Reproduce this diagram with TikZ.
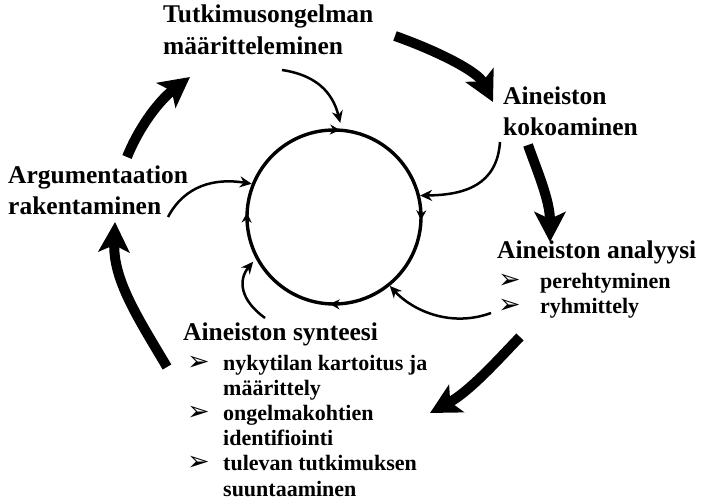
\documentclass[tikz,border=0pt]{standalone}
\usepackage{fontspec}
\setmainfont{Liberation Serif}
\newfontfamily\bulletfont{DejaVu Sans}
\usetikzlibrary{arrows.meta}
\usetikzlibrary{decorations.markings}

\newcommand{\bul}{\makebox[36pt][l]{\bulletfont\bfseries\fontsize{27}{27}\selectfont ➢}}
\newcommand{\bulwide}{\makebox[42pt][l]{\bulletfont\bfseries\fontsize{27}{27}\selectfont ➢}}

\begin{document}
\begin{tikzpicture}[
x=1pt, y=-1pt,
heading/.style={font=\fontsize{25.5}{31.5}\selectfont\bfseries, align=left, inner sep=0pt, anchor=base west},
itemlist/.style={font=\fontsize{22}{25.2}\selectfont\bfseries, inner sep=0pt, anchor=base west},
ring/.style={circle, draw, line width=3.4pt, minimum size=174pt, inner sep=0pt,
  postaction={decorate}, decoration={markings,
  mark=at position 0.239 with {\arrowreversed{Stealth[length=10pt,width=10pt]}},
  mark=at position 0.492 with {\arrowreversed{Stealth[length=10pt,width=10pt]}},
  mark=at position 0.742 with {\arrowreversed{Stealth[length=10pt,width=10pt]}},
  mark=at position 0.994 with {\arrowreversed{Stealth[length=10pt,width=10pt]}}}},
feed/.style={line width=2.5pt, -{Stealth[length=12pt,width=11pt]}},
bigarrow/.style={line width=10pt, -{Stealth[length=30pt,width=31pt,inset=7pt]}}
]
\useasboundingbox (0,0) rectangle (703,502);

% phases (two-line nodes sit on their last baseline)
\node[heading] (tutk) at (163,54.5) {Tutkimusongelman\\määritteleminen};
\node[heading] (koko) at (503,136) {Aineiston\\kokoaminen};
\node[heading] (argu) at (8,215) {Argumentaation\\rakentaminen};
\node[heading] (anal) at (497,259) {Aineiston analyysi};
\node[heading] (synt) at (183,340) {Aineiston synteesi};

\node[itemlist] (anal-list) at (498,288) {\begin{tabular}[t]{@{}l@{}}
\bulwide perehtyminen\\
\bulwide ryhmittely
\end{tabular}};
\node[itemlist] (synt-list) at (187,370) {\begin{tabular}[t]{@{}l@{}}
\bul nykytilan kartoitus ja\\
\hspace*{36pt}määrittely\\
\bul ongelmakohtien\\
\hspace*{36pt}identifiointi\\
\bul tulevan tutkimuksen\\
\hspace*{36pt}suuntaaminen
\end{tabular}};

% the cycle in the middle
\node[ring] (ring) at (334,217) {};

% ends of the big arrows
\coordinate (tutk-out) at (395,36);
\coordinate (koko-in) at (493,102);
\coordinate (koko-out) at (528,145);
\coordinate (anal-in) at (550,242);
\coordinate (anal-out) at (520,337);
\coordinate (synt-in) at (430,413);
\coordinate (synt-out) at (167,367);
\coordinate (argu-in) at (115,222);
\coordinate (argu-out) at (127,157);
\coordinate (tutk-in) at (190,77);

% starts of the thin arrows
\coordinate (tutk-feed) at (282,70);
\coordinate (koko-feed) at (500,142);
\coordinate (anal-feed) at (491,313);
\coordinate (synt-feed) at (265,318);
\coordinate (argu-feed) at (168,217);

\draw[bigarrow] (tutk-out) .. controls (440,52) and (478,72) .. (koko-in);
\draw[bigarrow] (koko-out) .. controls (536,168) and (550,200) .. (anal-in);
\draw[bigarrow] (anal-out) .. controls (505,352) and (472,390) .. (synt-in);
\draw[bigarrow] (synt-out) .. controls (138,318) and (113,280) .. (argu-in);
\draw[bigarrow] (argu-out) .. controls (140,125) and (160,100) .. (tutk-in);

\draw[feed, shorten >=6pt] (tutk-feed) .. controls (322,76) and (334,98) .. (ring.85);
\draw[feed] (koko-feed) .. controls (497,185) and (465,195) .. (ring.14);
\draw[feed] (anal-feed) .. controls (450,328) and (412,310) .. (ring.-51);
\draw[feed, shorten >=4pt] (synt-feed) .. controls (240,300) and (238,280) .. (ring.208);
\draw[feed] (argu-feed) .. controls (185,185) and (215,178) .. (ring.158);
\end{tikzpicture}
\end{document}
